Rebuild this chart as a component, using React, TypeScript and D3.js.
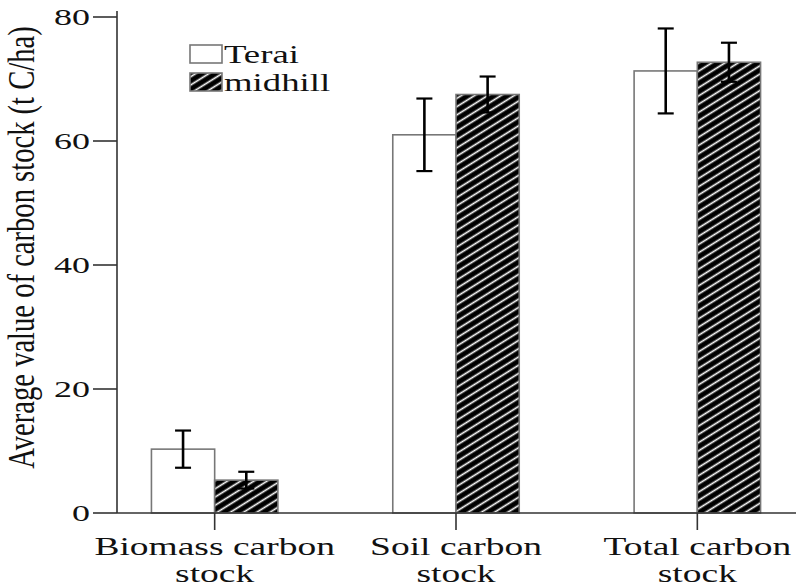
import React from "react";
import * as d3 from "d3";

// Carbon stock by forest region (mean ± error), t C/ha
const categoryLines: string[][] = [
  ["Biomass carbon", "stock"],
  ["Soil carbon", "stock"],
  ["Total carbon", "stock"],
];
const categories = categoryLines.map((l) => l.join(" "));
const seriesNames = ["Terai", "midhill"];
const teraiMeans = [10.3, 61.0, 71.3];
const teraiErrors = [3.0, 5.85, 6.85];
const midhillMeans = [5.3, 67.5, 72.7];
const midhillErrors = [1.35, 2.9, 3.15];
const yTicks = [0, 20, 40, 60, 80];

const W = 796;
const H = 586;
const axisX = 117;
const FONT = "Liberation Serif, DejaVu Serif, Times New Roman, serif";
const SX = 1.5; // horizontal stretch of the lettering
const textStyle = { fontFamily: FONT };

export default function App() {
  const y = d3.scaleLinear().domain([0, 80]).range([513, 17]);
  const x = d3.scaleBand<string>().domain(categories).range([94, 818]).padding(0);
  const barW = x.bandwidth() * 0.262;

  const series = [
    { name: seriesNames[0], means: teraiMeans, errs: teraiErrors, fill: "#fff", offset: -1 },
    { name: seriesNames[1], means: midhillMeans, errs: midhillErrors, fill: "url(#hatch)", offset: 0 },
  ];

  const y0 = y(0);

  return (
    <svg
      width={W}
      height={H}
      style={{ position: "absolute", left: 0, top: 0, background: "#fff" }}
    >
      <defs>
        <pattern
          id="hatch"
          patternUnits="userSpaceOnUse"
          width={7}
          height={7}
          patternTransform="rotate(-32)"
        >
          <rect width={7} height={7} fill="#000" />
          <line x1={0} x2={7} y1={3.5} y2={3.5} stroke="#fff" strokeWidth={1.7} />
        </pattern>
      </defs>

      {/* bars */}
      {categories.map((c, i) => {
        const cx = (x(c) ?? 0) + x.bandwidth() / 2;
        return (
          <g key={c}>
            {series.map((s) => {
              const left = cx + s.offset * barW;
              const top = y(s.means[i]);
              return (
                <rect
                  key={s.name}
                  x={left}
                  y={top}
                  width={barW}
                  height={y0 - top}
                  fill={s.fill}
                  stroke="#777"
                  strokeWidth={1.6}
                />
              );
            })}
          </g>
        );
      })}

      {/* error bars */}
      {categories.map((c, i) => {
        const cx = (x(c) ?? 0) + x.bandwidth() / 2;
        return (
          <g key={c + "-err"} stroke="#000">
            {series.map((s) => {
              const mx = cx + s.offset * barW + barW / 2;
              const hi = y(s.means[i] + s.errs[i]);
              const lo = y(s.means[i] - s.errs[i]);
              return (
                <g key={s.name}>
                  <line x1={mx} x2={mx} y1={hi} y2={lo} strokeWidth={2.6} />
                  <line x1={mx - 8} x2={mx + 8} y1={hi} y2={hi} strokeWidth={2.2} />
                  <line x1={mx - 8} x2={mx + 8} y1={lo} y2={lo} strokeWidth={2.2} />
                </g>
              );
            })}
          </g>
        );
      })}

      {/* y axis */}
      <line x1={axisX} x2={axisX} y1={11} y2={y0} stroke="#333" strokeWidth={1.6} />
      {yTicks.map((t) => (
        <g key={t}>
          <line x1={axisX - 24} x2={axisX} y1={y(t)} y2={y(t)} stroke="#333" strokeWidth={1.6} />
          <text
            transform={`translate(${axisX - 27},${y(t) + 8}) scale(${SX},1)`}
            textAnchor="end"
            fontSize={24}
            fill="#111"
            style={textStyle}
          >
            {t}
          </text>
        </g>
      ))}
      <text
        transform={`translate(34,${(25 + 470) / 2}) rotate(-90) scale(1,1.3)`}
        textAnchor="middle"
        fontSize={28.6}
        fill="#111"
        style={textStyle}
      >
        Average value of carbon stock (t C/ha)
      </text>

      {/* x axis */}
      <line x1={axisX} x2={W} y1={y0} y2={y0} stroke="#333" strokeWidth={1.6} />
      {categories.map((c, i) => {
        const cx = (x(c) ?? 0) + x.bandwidth() / 2;
        return (
          <g key={c + "-tick"}>
            <line x1={cx} x2={cx} y1={y0} y2={y0 + 17} stroke="#333" strokeWidth={1.6} />
            {categoryLines[i].map((ln, j) => (
              <text
                key={j}
                transform={`translate(${cx},${555 + j * 27}) scale(${SX},1)`}
                textAnchor="middle"
                fontSize={25}
                fill="#111"
                style={textStyle}
              >
                {ln}
              </text>
            ))}
          </g>
        );
      })}

      {/* legend */}
      {series.map((s, k) => (
        <g key={s.name + "-leg"} transform={`translate(190,${45 + k * 28})`}>
          <rect x={0} y={0} width={32} height={18} fill={s.fill} stroke="#777" strokeWidth={1.6} />
          <text
            transform={`translate(34,18) scale(${SX},1)`}
            fontSize={24.5}
            fill="#111"
            style={textStyle}
          >
            {s.name}
          </text>
        </g>
      ))}
    </svg>
  );
}
